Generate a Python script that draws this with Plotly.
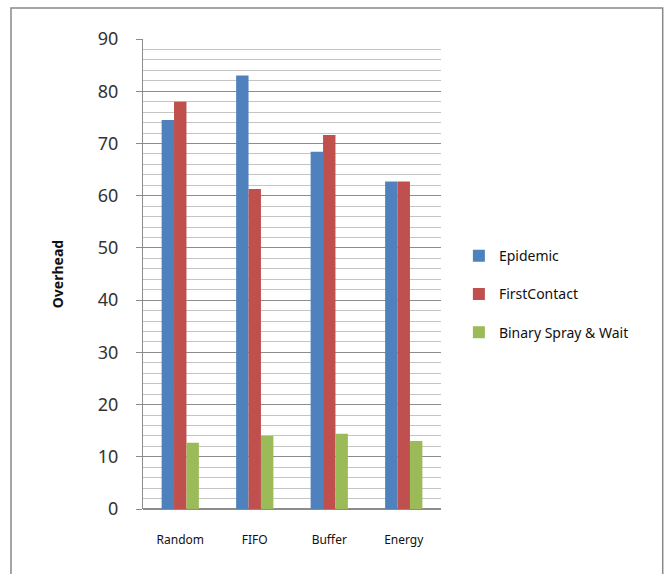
import plotly.graph_objects as go

# Overhead per buffer-management policy and routing protocol
policies = ["Random", "FIFO", "Buffer", "Energy"]
epidemic = [74.5, 83.0, 68.4, 62.7]
first_contact = [78.0, 61.3, 71.6, 62.7]
binary_spray_wait = [12.7, 14.0, 14.4, 13.0]
y_ticks = [0, 10, 20, 30, 40, 50, 60, 70, 80, 90]

series = [
    ("Epidemic", epidemic, "#4F81BD"),
    ("FirstContact", first_contact, "#C0504D"),
    ("Binary Spray & Wait", binary_spray_wait, "#9BBB59"),
]

fig = go.Figure()
for name, vals, color in series:
    fig.add_trace(go.Bar(x=policies, y=vals, name=name, legendgroup=name,
                         marker=dict(color=color, line=dict(width=0))))

font_family = "Noto Sans, DejaVu Sans, sans-serif"

fig.update_layout(
    width=664,
    height=574,
    margin=dict(l=143, r=223, t=39, b=65),
    paper_bgcolor="white",
    plot_bgcolor="white",
    barmode="group",
    bargap=0.5,
    bargroupgap=0,
    font=dict(family=font_family, color="#222"),
    legend=dict(
        x=1.06, y=0.457, xanchor="left", yanchor="middle",
        font=dict(size=14, color="#111"),
        tracegroupgap=17, itemwidth=30,
        bgcolor="rgba(0,0,0,0)",
    ),
    shapes=[
        dict(type="rect", xref="paper", yref="paper",
             x0=-0.443, x1=1.744, y0=-0.2, y1=1.066,
             line=dict(color="#888", width=1.5), fillcolor="rgba(0,0,0,0)", layer="below"),
    ],
)

fig.update_xaxes(
    domain=[0, 1],
    showgrid=False,
    showline=False,
    ticks="",
    tickfont=dict(size=12, color="#111"),
    ticklabelstandoff=22,
)

fig.update_yaxes(
    range=[0, 90],
    tickvals=y_ticks,
    tickfont=dict(size=18, color="#333"),
    showgrid=True,
    gridcolor="#8c8c8c",
    gridwidth=1,
    minor=dict(dtick=2, showgrid=True, gridcolor="#c4c4c4", gridwidth=1),
    showline=True,
    linecolor="#8c8c8c",
    linewidth=1,
    ticks="outside",
    ticklen=6,
    tickcolor="#8c8c8c",
    ticklabelstandoff=14,
    zeroline=True,
    zerolinecolor="#8c8c8c",
    title=dict(text="<b>Overhead</b>", font=dict(size=14, color="#111"), standoff=30),
)

fig.write_html("out.html")
